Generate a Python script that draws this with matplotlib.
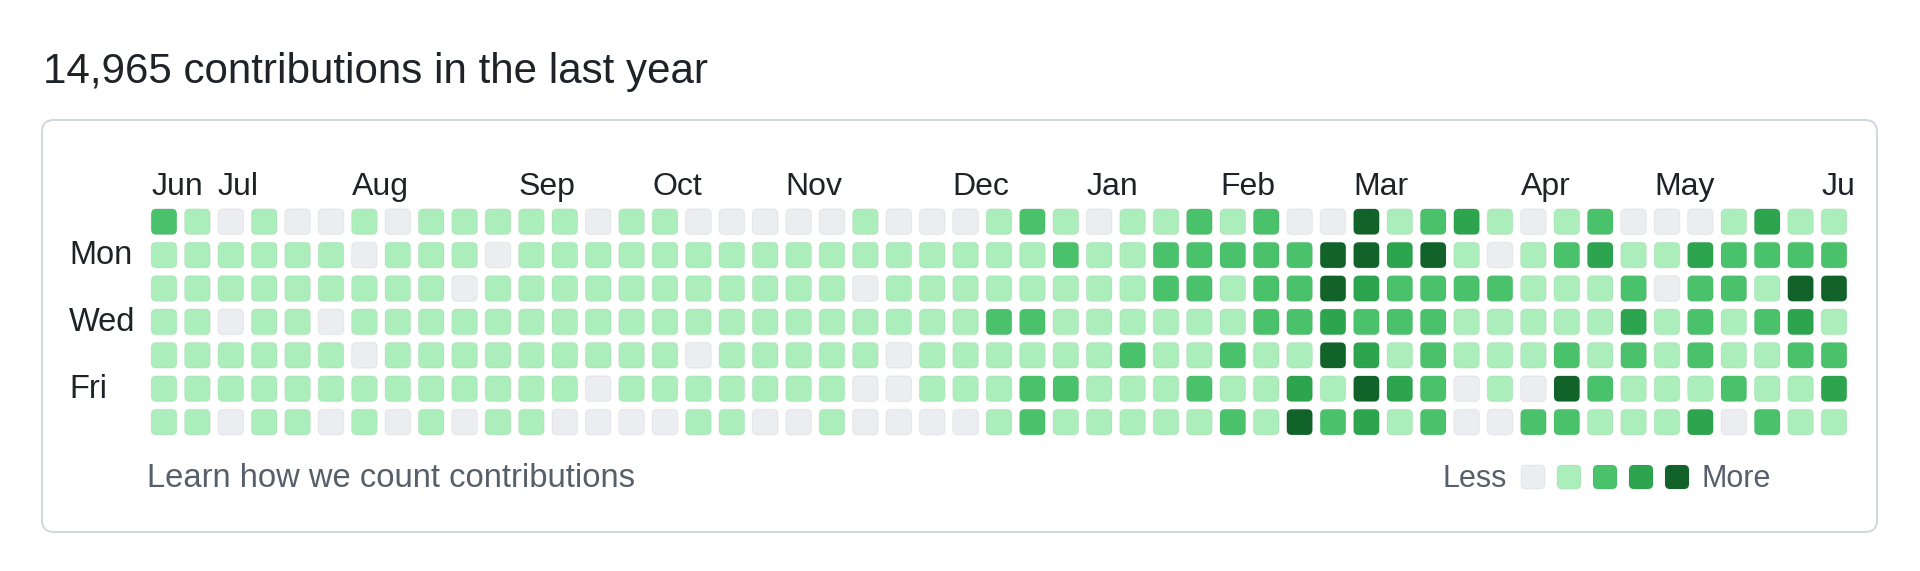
import matplotlib
matplotlib.use("Agg")
from matplotlib import pyplot as plt
from matplotlib.patches import FancyBboxPatch

plt.rcParams["font.family"] = ["Liberation Sans", "DejaVu Sans"]

# =========================
# DANE
# =========================
title = "14,965 contributions in the last year"
day_names = ["Sun", "Mon", "Tue", "Wed", "Thu", "Fri", "Sat"]
shown_days = ["Mon", "Wed", "Fri"]
month_names = ["Jun", "Jul", "Aug", "Sep", "Oct", "Nov", "Dec",
               "Jan", "Feb", "Mar", "Apr", "May", "Jun"]
month_weeks = [0, 2, 6, 11, 15, 19, 24, 28, 32, 36, 41, 45, 50]
level_colors = ["#ebedf0", "#aceebb", "#4ac26b", "#2da44e", "#116329"]

# poziom aktywnosci (0-4) dla kazdego tygodnia, osobno dla dni
sun = [2, 1, 0, 1, 0, 0, 1, 0, 1, 1, 1, 1, 1,
       0, 1, 1, 0, 0, 0, 0, 0, 1, 0, 0, 0, 1,
       2, 1, 0, 1, 1, 2, 1, 2, 0, 0, 4, 1, 2,
       3, 1, 0, 1, 2, 0, 0, 0, 1, 3, 1, 1]
mon = [1, 1, 1, 1, 1, 1, 0, 1, 1, 1, 0, 1, 1,
       1, 1, 1, 1, 1, 1, 1, 1, 1, 1, 1, 1, 1,
       1, 2, 1, 1, 2, 2, 2, 2, 2, 4, 4, 3, 4,
       1, 0, 1, 2, 3, 1, 1, 3, 2, 2, 2, 2]
tue = [1, 1, 1, 1, 1, 1, 1, 1, 1, 0, 1, 1, 1,
       1, 1, 1, 1, 1, 1, 1, 1, 0, 1, 1, 1, 1,
       1, 1, 1, 1, 2, 2, 1, 2, 2, 4, 3, 2, 2,
       2, 2, 1, 1, 1, 2, 0, 2, 2, 1, 4, 4]
wed = [1, 1, 0, 1, 1, 0, 1, 1, 1, 1, 1, 1, 1,
       1, 1, 1, 1, 1, 1, 1, 1, 1, 1, 1, 1, 2,
       2, 1, 1, 1, 1, 1, 1, 2, 2, 3, 2, 2, 2,
       1, 1, 1, 1, 1, 3, 1, 2, 1, 2, 3, 1]
thu = [1, 1, 1, 1, 1, 1, 0, 1, 1, 1, 1, 1, 1,
       1, 1, 1, 0, 1, 1, 1, 1, 1, 0, 1, 1, 1,
       1, 1, 1, 2, 1, 1, 2, 1, 1, 4, 3, 1, 2,
       1, 1, 1, 2, 1, 2, 1, 2, 1, 1, 2, 2]
fri = [1, 1, 1, 1, 1, 1, 1, 1, 1, 1, 1, 1, 1,
       0, 1, 1, 1, 1, 1, 1, 1, 0, 0, 1, 1, 1,
       2, 2, 1, 1, 1, 2, 1, 1, 3, 1, 4, 3, 2,
       0, 1, 0, 4, 2, 1, 1, 1, 2, 1, 1, 3]
sat = [1, 1, 0, 1, 1, 0, 1, 0, 1, 0, 1, 1, 0,
       0, 0, 0, 1, 1, 0, 0, 1, 0, 0, 0, 0, 1,
       2, 1, 1, 1, 1, 1, 2, 1, 4, 2, 3, 1, 2,
       0, 0, 2, 2, 1, 1, 1, 3, 0, 2, 1, 1]
weeks = [sun, mon, tue, wed, thu, fri, sat]

# =========================
# UKLAD (piksele)
# =========================
W, H = 1920, 571
step = 33.4          # odstep miedzy kratkami
cell = 25.6          # bok kratki
x0, y0 = 164, 221.7  # srodek pierwszej kratki
clip_right = 1854    # tu obcinane sa etykiety miesiecy

text_dark = "#1f2328"
text_muted = "#57606a"

fig = plt.figure(figsize=(W / 100, H / 100), dpi=100)
fig.patch.set_facecolor("white")

# tlo: karta, tytul, legenda
bg = fig.add_axes([0, 0, 1, 1])
bg.set_xlim(0, W)
bg.set_ylim(H, 0)
bg.axis("off")

card = FancyBboxPatch((42, 120), 1835, 412,
                      boxstyle="round,pad=0,rounding_size=12",
                      facecolor="white", edgecolor="#d0d7de", linewidth=1.4)
bg.add_patch(card)

bg.text(43, 83, title, fontsize=30.3, color=text_dark, va="baseline")

bg.text(147, 487, "Learn how we count contributions", fontsize=23.6,
        color=text_muted, va="baseline")
bg.text(1507, 487, "Less", fontsize=22, color=text_muted, va="baseline", ha="right")
bg.text(1701, 487, "More", fontsize=22, color=text_muted, va="baseline", ha="left")
leg_size = 24
for i, col in enumerate(level_colors):
    cx = 1533 + i * 36
    bg.add_patch(FancyBboxPatch((cx - leg_size / 2, 477 - leg_size / 2), leg_size, leg_size,
                                boxstyle="round,pad=0,rounding_size=5",
                                facecolor=col, edgecolor=(0.12, 0.14, 0.16, 0.06),
                                linewidth=0.8))

# =========================
# SIATKA
# =========================
left = x0 - step * 0.5
top = y0 - step * 2.0
bottom = y0 + step * 6.5
ax = fig.add_axes([left / W, 1 - bottom / H, (clip_right - left) / W, (bottom - top) / H])
ax.set_xlim(-0.5, (clip_right - x0) / step)
ax.set_ylim(6.5, -2.0)
ax.axis("off")

size = cell / step
half = size / 2
for r, row in enumerate(weeks):
    for c, lvl in enumerate(row):
        ax.add_patch(FancyBboxPatch((c - half, r - half), size, size,
                                    boxstyle="round,pad=0,rounding_size=0.15",
                                    facecolor=level_colors[lvl],
                                    edgecolor=(0.12, 0.14, 0.16, 0.06), linewidth=0.8))

for name, w in zip(month_names, month_weeks):
    ax.text(w - half, -0.785, name, fontsize=23, color=text_dark,
            ha="left", va="baseline", clip_on=True)

for name in shown_days:
    r = day_names.index(name)
    ax.text(-2.84, r + 0.28, name, fontsize=23.5, color=text_dark,
            ha="left", va="baseline")

plt.savefig("out.png", dpi=100)
plt.close()
